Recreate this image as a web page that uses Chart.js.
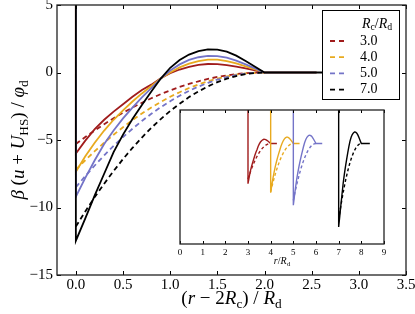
<!DOCTYPE html>
<html>
<head>
<meta charset="utf-8">
<script src="https://cdn.jsdelivr.net/npm/chart.js@4"></script>
<style>
  html, body { margin: 0; padding: 0; background: #fff; }
  #wrap { position: relative; width: 415px; height: 314px; }
  #mainCanvas { position: absolute; left: 0; top: 0; }
  #insetCanvas { position: absolute; left: 170px; top: 104px; }
</style>
</head>
<body>
<div id="wrap">
  <canvas id="mainCanvas" width="415" height="314"></canvas>
  <canvas id="insetCanvas" width="222" height="166"></canvas>
</div>
<script>
// Rc/Rd values shown in the legend
const ratioLabels = ["3.0", "4.0", "5.0", "7.0"];
const ratios = [3, 4, 5, 7];
const colors = ["#a01c1c", "#e8aa1f", "#7474c8", "#000000"];

// (r - 2Rc)/Rd sample positions
const xs = [0, 0.1, 0.2, 0.3, 0.4, 0.5, 0.6, 0.7, 0.8, 0.9, 1.0,
            1.1, 1.2, 1.3, 1.4, 1.5, 1.6, 1.7, 1.8, 1.9, 2.0];

// solid curves
const solid3 = [-6.0, -5.05, -4.2, -3.5, -2.9, -2.35, -1.8, -1.3, -0.9, -0.42, -0.05,
                0.22, 0.42, 0.56, 0.63, 0.62, 0.55, 0.44, 0.3, 0.15, 0];
const solid4 = [-7.35, -6.2, -5.2, -4.3, -3.5, -2.8, -2.15, -1.55, -1.0, -0.45, 0.0,
                0.38, 0.66, 0.85, 0.95, 0.95, 0.85, 0.68, 0.46, 0.23, 0];
const solid5 = [-9.2, -7.8, -6.5, -5.3, -4.3, -3.4, -2.6, -1.85, -1.15, -0.45, 0.15,
                0.6, 0.93, 1.13, 1.23, 1.22, 1.1, 0.88, 0.6, 0.3, 0];
const solid7 = [-12.46, -10.8, -9.1, -7.5, -5.9, -4.6, -3.45, -2.4, -1.4, -0.45, 0.35,
                0.92, 1.33, 1.58, 1.71, 1.7, 1.55, 1.25, 0.85, 0.42, 0];

// dashed curves
const dashed3 = [-5.3, -4.78, -4.29, -3.83, -3.39, -2.98, -2.6, -2.24, -1.91, -1.6, -1.33,
                 -1.07, -0.85, -0.65, -0.48, -0.33, -0.21, -0.12, -0.05, -0.01, 0];
const dashed4 = [-7.2, -6.5, -5.83, -5.2, -4.61, -4.05, -3.53, -3.04, -2.59, -2.18, -1.8,
                 -1.46, -1.15, -0.88, -0.65, -0.45, -0.29, -0.16, -0.07, -0.02, 0];
const dashed5 = [-8.5, -7.67, -6.89, -6.14, -5.44, -4.78, -4.17, -3.59, -3.06, -2.57, -2.13,
                 -1.72, -1.36, -1.04, -0.77, -0.53, -0.34, -0.19, -0.09, -0.02, 0];
const dashed7 = [-11.4, -10.29, -9.23, -8.24, -7.3, -6.41, -5.59, -4.82, -4.1, -3.45, -2.85,
                 -2.31, -1.82, -1.4, -1.03, -0.71, -0.46, -0.26, -0.11, -0.03, 0];

const solids = [solid3, solid4, solid5, solid7];
const dasheds = [dashed3, dashed4, dashed5, dashed7];
const wallValue = 20;              // hard wall at contact, goes off the top
const flatEnd = [2.55, 2.55, 2.55, 2.75];

const serif = '"Liberation Serif", "DejaVu Serif", serif';

function solidPoints(i, toX) {
    const pts = [{ x: toX(i, 0), y: wallValue }];
    xs.forEach((x, k) => pts.push({ x: toX(i, x), y: solids[i][k] }));
    pts.push({ x: toX(i, flatEnd[i]), y: 0 });
    return pts;
}
function dashedPoints(i, toX) {
    return xs.map((x, k) => ({ x: toX(i, x), y: dasheds[i][k] }));
}

function buildSets(toX, width, dash) {
    const sets = [];
    // black first so it is drawn on top
    for (let i = ratios.length - 1; i >= 0; i--) {
        sets.push({ data: solidPoints(i, toX), borderColor: colors[i], borderWidth: width,
                    pointRadius: 0, fill: false, tension: 0 });
        sets.push({ data: dashedPoints(i, toX), borderColor: colors[i], borderWidth: width,
                    borderDash: dash, pointRadius: 0, fill: false, tension: 0 });
    }
    return sets;
}

// text with italic / subscript runs: [text, italic, sub]
function drawRich(ctx, runs, x, y, size) {
    const fontOf = r => (r[1] ? 'italic ' : '') + (r[2] ? size * 0.7 : size) + 'px ' + serif;
    const widths = runs.map(r => { ctx.font = fontOf(r); return ctx.measureText(r[0]).width; });
    let cx = x - widths.reduce((a, b) => a + b, 0) / 2;
    runs.forEach((r, k) => {
        ctx.font = fontOf(r);
        ctx.fillText(r[0], cx, y + (r[2] ? size * 0.28 : 0));
        cx += widths[k];
    });
}

function drawFrameTicks(chart, len, doY) {
    const { ctx, chartArea: a, scales } = chart;
    ctx.save();
    ctx.strokeStyle = '#000';
    ctx.lineWidth = 1;
    ctx.beginPath();
    scales.x.ticks.forEach(t => {
        const px = Math.round(scales.x.getPixelForValue(t.value)) + 0.5;
        ctx.moveTo(px, a.bottom); ctx.lineTo(px, a.bottom - len);
        ctx.moveTo(px, a.top); ctx.lineTo(px, a.top + len);
    });
    if (doY) {
        scales.y.ticks.forEach(t => {
            const py = Math.round(scales.y.getPixelForValue(t.value)) + 0.5;
            ctx.moveTo(a.left, py); ctx.lineTo(a.left + len, py);
            ctx.moveTo(a.right, py); ctx.lineTo(a.right - len, py);
        });
    }
    ctx.stroke();
    ctx.lineWidth = 1.3;
    ctx.strokeStyle = '#222';
    ctx.strokeRect(a.left, a.top, a.width, a.height);
    ctx.restore();
}

const mainDeco = {
    id: 'mainDeco',
    afterDatasetsDraw(chart) {
        const { ctx, chartArea: a } = chart;
        drawFrameTicks(chart, 4, true);

        // legend box
        const bx = a.right - 84, by = a.top + 5, bw = 77, bh = 89;
        ctx.save();
        ctx.fillStyle = '#fff';
        ctx.fillRect(bx, by, bw, bh);
        ctx.strokeStyle = '#000';
        ctx.lineWidth = 1;
        ctx.strokeRect(bx + 0.5, by + 0.5, bw, bh);
        ctx.fillStyle = '#000';
        ctx.textBaseline = 'middle';
        drawRich(ctx, [["R", true], ["c", false, true], ["/", false], ["R", true], ["d", false, true]],
                 bx + 55, by + 14, 14);
        ratioLabels.forEach((lab, i) => {
            const ly = by + 31 + i * 16.2;
            ctx.strokeStyle = colors[i];
            ctx.lineWidth = 1.8;
            ctx.setLineDash([5, 4]);
            ctx.beginPath();
            ctx.moveTo(bx + 8, ly); ctx.lineTo(bx + 24, ly);
            ctx.stroke();
            ctx.setLineDash([]);
            ctx.font = '14px ' + serif;
            ctx.textAlign = 'left';
            ctx.fillText(lab, bx + 38, ly);
        });
        ctx.restore();
    },
    afterDraw(chart) {
        const { ctx, chartArea: a } = chart;
        ctx.save();
        ctx.fillStyle = '#000';
        ctx.textBaseline = 'middle';
        drawRich(ctx, [["(", false], ["r", true], [" \u2212 2", false], ["R", true], ["c", false, true],
                       [") / ", false], ["R", true], ["d", false, true]],
                 (a.left + a.right) / 2, 299, 19);
        ctx.translate(19, (a.top + a.bottom) / 2);
        ctx.rotate(-Math.PI / 2);
        drawRich(ctx, [["\u03b2", true], [" (", false], ["u", true], [" + ", false], ["U", true],
                       ["HS", false, true], [") / ", false], ["\u03c6", true], ["d", false, true]],
                 0, 0, 19);
        ctx.restore();
    }
};

const minusFmt = v => (v < 0 ? '\u2212' + Math.abs(v) : String(v));
const noPad = s => { s.paddingTop = 0; s.paddingBottom = 0; s.paddingLeft = 0; s.paddingRight = 0; };

new Chart(document.getElementById('mainCanvas'), {
    type: 'line',
    data: { datasets: buildSets((i, x) => x, 1.8, [5, 3.5]) },
    options: {
        responsive: false,
        animation: false,
        events: [],
        layout: { padding: { top: 5, right: 9, left: 0, bottom: 0 } },
        plugins: { legend: { display: false }, tooltip: { enabled: false } },
        scales: {
            x: {
                type: 'linear', min: -0.2, max: 3.5,
                grid: { display: false, drawTicks: false },
                border: { display: false },
                ticks: { stepSize: 0.5, includeBounds: false, maxRotation: 0, padding: 1,
                         color: '#000', font: { family: serif, size: 15 },
                         callback: v => v.toFixed(1) },
                afterFit: s => { s.height = 39; noPad(s); }
            },
            y: {
                min: -15, max: 5,
                grid: { display: false, drawTicks: false },
                border: { display: false },
                ticks: { stepSize: 5, padding: 4, color: '#000',
                         font: { family: serif, size: 15 }, callback: minusFmt },
                afterFit: s => { s.width = 57; noPad(s); }
            }
        }
    },
    plugins: [mainDeco]
});

// inset: same curves against r/Rd (contact at Rc, half scale)
const insetDeco = {
    id: 'insetDeco',
    beforeDatasetsDraw(chart) {
        const { ctx, chartArea: a } = chart;
        ctx.save();
        ctx.fillStyle = '#fff';
        ctx.fillRect(a.left, a.top, a.width, a.height);
        ctx.restore();
    },
    afterDatasetsDraw(chart) {
        drawFrameTicks(chart, 3, false);
    },
    afterDraw(chart) {
        const { ctx, chartArea: a } = chart;
        ctx.save();
        ctx.fillStyle = '#000';
        ctx.textBaseline = 'middle';
        drawRich(ctx, [["r", true], ["/", false], ["R", true], ["d", false, true]],
                 (a.left + a.right) / 2, a.bottom + 17, 10);
        ctx.restore();
    }
};

new Chart(document.getElementById('insetCanvas'), {
    type: 'line',
    data: { datasets: buildSets((i, x) => ratios[i] + x / 2, 1.4, [3, 2.5]) },
    options: {
        responsive: false,
        animation: false,
        events: [],
        layout: { padding: { left: 10, top: 6, right: 8, bottom: 0 } },
        plugins: { legend: { display: false }, tooltip: { enabled: false } },
        scales: {
            x: {
                type: 'linear', min: 0, max: 9,
                grid: { display: false, drawTicks: false },
                border: { display: false },
                ticks: { stepSize: 1, maxRotation: 0, padding: 3, color: '#000',
                         font: { family: serif, size: 9 } },
                afterFit: s => { s.height = 26; noPad(s); }
            },
            y: { min: -15, max: 5, display: false }
        }
    },
    plugins: [insetDeco]
});
</script>
</body>
</html>
